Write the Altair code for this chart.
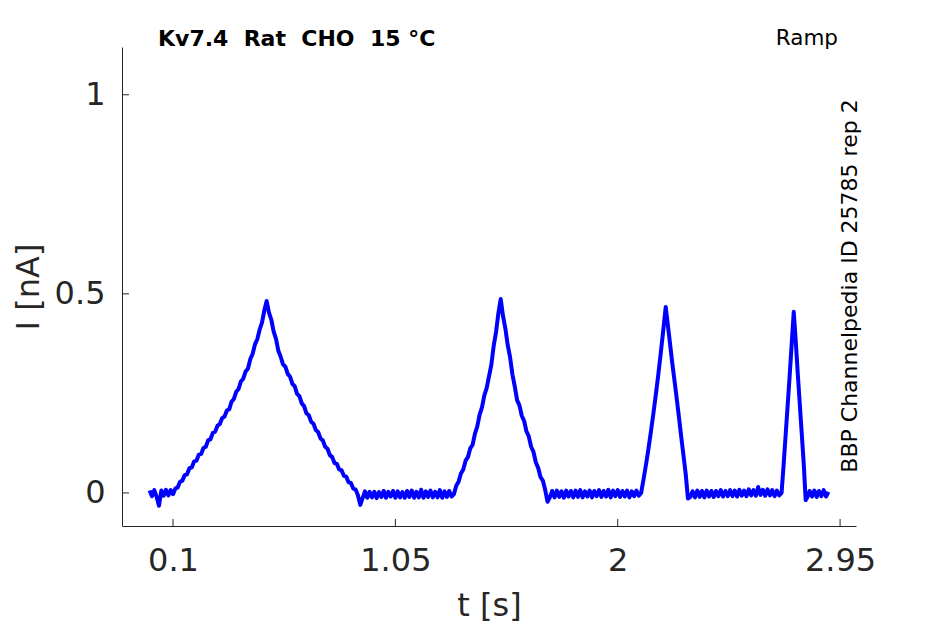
import altair as alt
import numpy as np
import pandas as pd

seg_b0_t = (0.00, 0.09)
seg_b0_v = [0.006, -0.008, 0.007, -0.010, -0.032, 0.006, -0.007, 0.008, -0.006, 0.007]

seg_r1up_t = (0.10, 0.50)
seg_r1up_v = [-0.003, 0.011, 0.014, 0.028, 0.031, 0.045, 0.047, 0.062, 0.064, 0.079,
              0.081, 0.096, 0.098, 0.113, 0.116, 0.132, 0.135, 0.151, 0.154, 0.169,
              0.173, 0.188, 0.192, 0.207, 0.210, 0.229, 0.236, 0.254, 0.261, 0.280,
              0.287, 0.305, 0.312, 0.336, 0.349, 0.373, 0.386, 0.410, 0.428, 0.458, 0.482]

seg_r1dn_t = (0.51, 0.90)
seg_r1dn_v = [0.453, 0.435, 0.405, 0.387, 0.357, 0.342, 0.323, 0.317, 0.299, 0.292,
              0.274, 0.268, 0.249, 0.243, 0.225, 0.218, 0.200, 0.195, 0.179, 0.174,
              0.158, 0.153, 0.137, 0.132, 0.116, 0.111, 0.095, 0.090, 0.075, 0.073,
              0.059, 0.057, 0.043, 0.041, 0.027, 0.025, 0.011, 0.009, -0.006, -0.030]

seg_b1_t = (0.91, 1.29)
seg_b1_v = [-0.013, 0.004, -0.012, 0.003, -0.011, 0.003, -0.013, 0.002, -0.010, 0.005,
            -0.012, 0.003, -0.009, 0.005, -0.012, 0.004, -0.011, 0.002, -0.012, 0.005,
            -0.010, 0.006, -0.012, 0.003, -0.011, 0.008, -0.012, 0.004, -0.010, 0.006,
            -0.011, 0.003, -0.011, 0.007, -0.012, 0.004, -0.010, 0.005, -0.009]

seg_r2up_t = (1.30, 1.50)
seg_r2up_v = [-0.003, 0.018, 0.028, 0.049, 0.059, 0.081, 0.090, 0.112, 0.121, 0.149,
              0.167, 0.197, 0.215, 0.245, 0.263, 0.293, 0.322, 0.369, 0.404, 0.451, 0.487]

seg_r2dn_t = (1.51, 1.70)
seg_r2dn_v = [0.444, 0.413, 0.371, 0.341, 0.298, 0.268, 0.233, 0.220, 0.194, 0.181,
              0.155, 0.142, 0.116, 0.103, 0.077, 0.063, 0.040, 0.031, 0.008, -0.022]

seg_b2_t = (1.71, 2.09)
seg_b2_v = [-0.011, 0.005, -0.011, 0.006, -0.010, 0.004, -0.012, 0.006, -0.009, 0.005,
            -0.011, 0.006, -0.010, 0.007, -0.011, 0.004, -0.009, 0.006, -0.011, 0.005,
            -0.008, 0.007, -0.010, 0.005, -0.009, 0.008, -0.011, 0.006, -0.008, 0.007,
            -0.010, 0.005, -0.009, 0.006, -0.011, 0.004, -0.008, 0.006, -0.007]

seg_r3up_t = (2.10, 2.205)
seg_r3up_v = [0.000, 0.035, 0.072, 0.112, 0.155, 0.200, 0.248, 0.298, 0.352, 0.408, 0.467]

seg_r3dn_t = (2.2145, 2.30)
seg_r3dn_v = [0.420, 0.372, 0.324, 0.280, 0.235, 0.188, 0.140, 0.094, 0.047, -0.014]

seg_b3_t = (2.31, 2.69)
seg_b3_v = [-0.010, 0.004, -0.011, 0.006, -0.010, 0.005, -0.011, 0.006, -0.009, 0.005,
            -0.010, 0.005, -0.008, 0.007, -0.009, 0.005, -0.008, 0.007, -0.008, 0.006,
            -0.009, 0.008, -0.007, 0.006, -0.008, 0.009, -0.006, 0.007, -0.007, 0.015,
            -0.005, 0.008, -0.007, 0.009, -0.006, 0.007, -0.008, 0.006, -0.006]

seg_r4up_t = (2.70, 2.752)
seg_r4up_v = [0.000, 0.070, 0.145, 0.220, 0.295, 0.375, 0.455]

seg_r4dn_t = (2.7607, 2.803)
seg_r4dn_v = [0.380, 0.300, 0.225, 0.150, 0.075, -0.018]

seg_b4_t = (2.81, 2.90)
seg_b4_v = [-0.011, 0.005, -0.009, 0.006, -0.010, 0.005, -0.008, 0.007, -0.009, 0.003]

x_ticks = [0.1, 1.05, 2, 2.95]
y_ticks = [0, 0.5, 1]

title_text = "Kv7.4\u00a0\u00a0Rat\u00a0\u00a0CHO\u00a0\u00a015\u00a0°C"
protocol_text = "Ramp"
side_text = "BBP Channelpedia ID 25785 rep 2"

# ---- build table ----
segments = [
    (seg_b0_t, seg_b0_v), (seg_r1up_t, seg_r1up_v), (seg_r1dn_t, seg_r1dn_v),
    (seg_b1_t, seg_b1_v), (seg_r2up_t, seg_r2up_v), (seg_r2dn_t, seg_r2dn_v),
    (seg_b2_t, seg_b2_v), (seg_r3up_t, seg_r3up_v), (seg_r3dn_t, seg_r3dn_v),
    (seg_b3_t, seg_b3_v), (seg_r4up_t, seg_r4up_v), (seg_r4dn_t, seg_r4dn_v),
    (seg_b4_t, seg_b4_v),
]
ts, vs = [], []
for (t0, t1), vals in segments:
    ts.extend(np.linspace(t0, t1, len(vals)).tolist())
    vs.extend(vals)
trace = pd.DataFrame({"t": ts, "i": vs, "order": range(len(ts))})

W, H = 734, 479
AX = "#262626"
FONT = "DejaVu Sans"

xscale = alt.Scale(domain=[-0.118, 3.018], nice=False, zero=False)
yscale = alt.Scale(domain=[-0.083, 1.12], nice=False, zero=False)

xaxis = alt.Axis(title="t [s]", values=x_ticks, ticks=False, grid=False,
                 labelExpr="format(datum.value, '.3~g')",
                 labelFontSize=32, titleFontSize=32, labelColor=AX, titleColor=AX,
                 titleFontWeight="normal", labelPadding=19, titlePadding=14,
                 domainColor=AX, labelFlush=False, labelFont=FONT, titleFont=FONT)
yaxis = alt.Axis(title="I [nA]", values=y_ticks, ticks=False, grid=False,
                 labelExpr="format(datum.value, '.3~g')",
                 labelFontSize=32, titleFontSize=32, labelColor=AX, titleColor=AX,
                 titleFontWeight="normal", labelPadding=17, titlePadding=9,
                 domainColor=AX, labelFlush=False, labelFont=FONT, titleFont=FONT)

line = alt.Chart(trace).mark_line(color="#0000ff", strokeWidth=4, clip=True,
                                  strokeJoin="round").encode(
    x=alt.X("t:Q", scale=xscale, axis=xaxis),
    y=alt.Y("i:Q", scale=yscale, axis=yaxis),
    order="order:Q",
)

xt = alt.Chart(pd.DataFrame({"t": x_ticks})).mark_rule(color=AX, strokeWidth=1).encode(
    x=alt.X("t:Q", scale=xscale, axis=xaxis), y=alt.value(H), y2=alt.value(H - 7))
yt = alt.Chart(pd.DataFrame({"i": y_ticks})).mark_rule(color=AX, strokeWidth=1).encode(
    y=alt.Y("i:Q", scale=yscale, axis=yaxis), x=alt.value(0), x2=alt.value(7))

lbl = pd.DataFrame({"a": [0]})
title_mark = alt.Chart(lbl).mark_text(text=title_text, font=FONT, fontSize=22, fontWeight="bold",
                                      align="left", baseline="alphabetic", color="black").encode(
    x=alt.value(36), y=alt.value(-1))
ramp_mark = alt.Chart(lbl).mark_text(text=protocol_text, font=FONT, fontSize=21.5,
                                     align="right", baseline="alphabetic", color="black").encode(
    x=alt.value(716), y=alt.value(-2))
side_mark = alt.Chart(lbl).mark_text(text=side_text, font=FONT, fontSize=22, angle=270,
                                     align="center", baseline="middle", color="black").encode(
    x=alt.value(728), y=alt.value(239))

chart = alt.layer(line, xt, yt, title_mark, ramp_mark, side_mark).properties(
    width=W, height=H,
    autosize=alt.AutoSizeParams(type="none"),
    padding={"left": 114, "top": 39, "right": 80, "bottom": 110},
).configure_view(stroke=None)

chart.save("out.html", embed_options={"renderer": "svg", "actions": False})
